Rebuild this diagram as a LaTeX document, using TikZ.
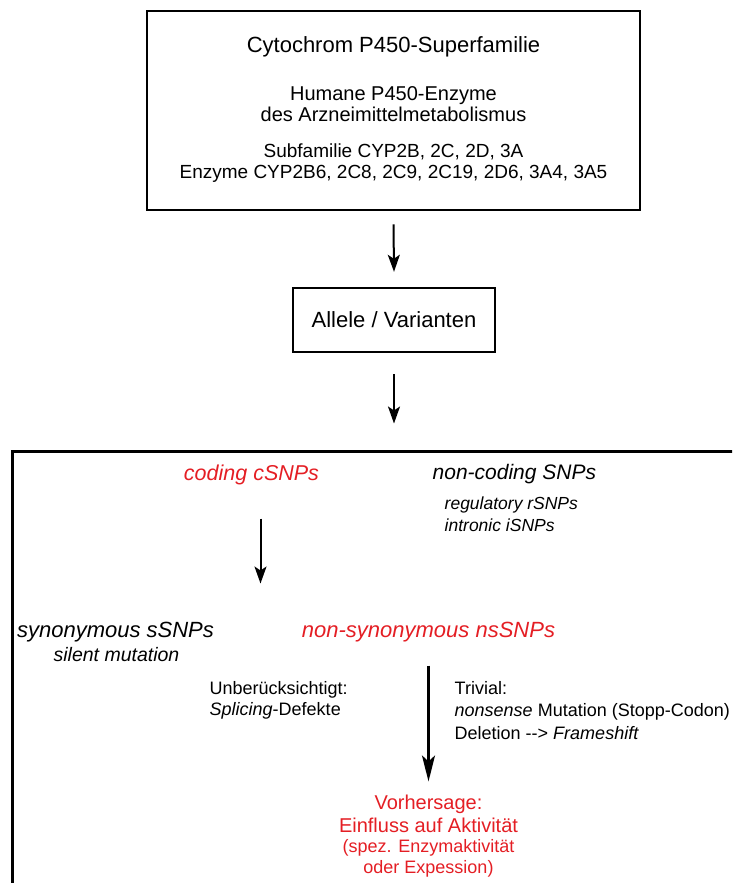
\documentclass[tikz,border=0pt]{standalone}
\usepackage{fontspec}
\setmainfont{Liberation Sans}
\usetikzlibrary{positioning, arrows.meta, calc}
\definecolor{snpred}{RGB}{228,30,36}
\newcommand{\fsz}[2]{\fontsize{#1}{#2}\selectfont}
\tikzset{
        my-box/.style={
            draw, line width=2.6pt, inner sep=0pt
        },
        my-text/.style={
            inner sep=0pt, align=center
        },
        my-arrow/.style={
            line width=2pt, -{Stealth[length=17pt, width=12pt, inset=4pt]}
        },
        my-long-arrow/.style={
            line width=2.4pt, -{Stealth[length=26pt, width=13pt, inset=6pt]}
        },
}

\begin{document}
\begin{tikzpicture}[x=1pt, y=-1pt]

        \clip (0,0) rectangle (732,883);

        %DRAW BOXES (everything else is placed relative to them)
        \node [my-box, minimum width=493pt, minimum height=199pt]  (SFAM)  at (393.5,110.5) {};
        \node [my-box, line width=2.4pt, minimum width=202pt, minimum height=64pt, font=\fsz{22}{26}]
                                                                   (ALLEL) at (394,320)     {Allele / Varianten};
        \node [my-box, line width=3pt, minimum width=760pt, minimum height=460pt]
                                                                   (SNPS)  at (392,681)     {};

        % SUPERFAMILY TEXT
        \node [my-text, font=\fsz{22}{26}] (CYP) at ($(SFAM.north)+(0,37)$)    {Cytochrom P450-Superfamilie};
        \node [my-text, font=\fsz{20}{21}] (HUM) at ($(SFAM.north)+(0,94.5)$)  {Humane P450-Enzyme\\des Arzneimittelmetabolismus};
        \node [my-text, font=\fsz{19}{21}] (SUB) at ($(SFAM.north)+(0,153.5)$) {Subfamilie CYP2B, 2C, 2D, 3A\\Enzyme CYP2B6, 2C8, 2C9, 2C19, 2D6, 3A4, 3A5};

        % SNP CLASSES
        \node [my-text, text=snpred, font=\fsz{21.5}{24}\itshape] (CSNP) at ($(SNPS.north west)+(241,25)$) {coding cSNPs};
        \node [my-text, anchor=west, font=\fsz{21}{24}\itshape]   (NCSNP) at ($(SNPS.north west)+(422,25)$) {non-coding SNPs};
        \node [my-text, anchor=west, align=left, font=\fsz{17.5}{22}\itshape] (RSNP) at ($(SNPS.north west)+(434,65)$)
                {regulatory rSNPs\\intronic iSNPs};
        \node [my-text, font=\fsz{22}{24}\itshape]   (SSNP)   at ($(SNPS.north west)+(105,183)$) {synonymous sSNPs};
        \node [my-text, font=\fsz{19.5}{22}\itshape] (SILENT) at ($(SNPS.north west)+(106,205)$) {silent mutation};
        \node [my-text, text=snpred, font=\fsz{22}{24}\itshape] (NSSNP) at ($(SNPS.north west)+(418,183)$) {non-synonymous nsSNPs};

        % SIDE NOTES
        \node [my-text, anchor=west, align=left, font=\fsz{18}{21}] (UNBER) at ($(SNPS.north west)+(199,251)$)
                {Unberücksichtigt:\\\textit{Splicing}-Defekte};
        \node [my-text, anchor=west, align=left, font=\fsz{18}{22.5}] (TRIV)  at ($(SNPS.north west)+(444,261)$)
                {Trivial:\\\textit{nonsense} Mutation (Stopp-Codon)\\Deletion -{}-> \textit{Frameshift}};

        % PREDICTION
        \node [my-text, text=snpred, font=\fsz{20}{23}] (PRED)    at ($(SNPS.north west)+(418,364)$) {Vorhersage:\\Einfluss auf Aktivität};
        \node [my-text, text=snpred, font=\fsz{18}{20.5}] (PREDSUB) at ($(SNPS.north west)+(418,409)$) {(spez. Enzymaktivität\\oder Expession)};

        \coordinate (CSPLIT) at ($(SNPS.north west)+(250,134)$);

        % CONNECT BOXES
        \draw [my-arrow] ([yshift=-13pt]SFAM.south) -- ([yshift=15pt]ALLEL.north);
        \draw [my-arrow] ([yshift=-21pt]ALLEL.south) -- ([yshift=26pt]ALLEL.south |- SNPS.north);

        % CONNECT SNP CLASSES
        \draw [my-arrow] ([xshift=9pt, yshift=-34pt]CSNP.south) -- (CSPLIT);
        \draw [my-long-arrow] ([yshift=-23pt]NSSNP.south) -- ([yshift=13pt]NSSNP.south |- PRED.north);

\end{tikzpicture}
\end{document}
